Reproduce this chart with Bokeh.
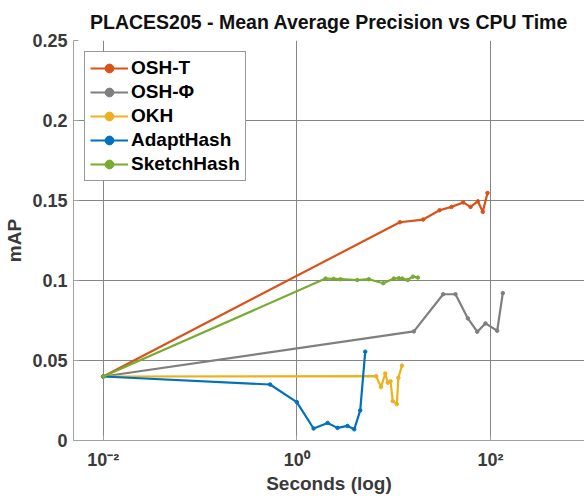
from bokeh.plotting import figure
from bokeh.models import FixedTicker, Legend, LegendItem, Range1d
from bokeh.embed import file_html
from bokeh.resources import INLINE

# ---- data ----
osh_t_x = [0.01, 11.6, 20.2, 29.8, 39.6, 52.3, 62.3, 74.1, 83.4, 93.3]
osh_t_y = [0.040, 0.1364, 0.1381, 0.1439, 0.1460, 0.1488, 0.1460, 0.1495, 0.1429, 0.1547]

osh_phi_x = [0.01, 16.2, 32.5, 43.6, 58.5, 73.1, 89.0, 117.5, 134.3]
osh_phi_y = [0.040, 0.0682, 0.0914, 0.0914, 0.0763, 0.0680, 0.0732, 0.0686, 0.0921]

okh_x = [0.01, 6.6, 7.4, 8.2, 8.7, 9.3, 9.8, 10.8, 11.2, 12.2]
okh_y = [0.040, 0.0402, 0.0334, 0.0419, 0.0361, 0.0370, 0.0246, 0.0227, 0.0392, 0.0468]

adapt_x = [0.01, 0.53, 1.0, 1.49, 2.08, 2.63, 3.34, 3.92, 4.52, 5.09]
adapt_y = [0.040, 0.0350, 0.0240, 0.0075, 0.0110, 0.0079, 0.0091, 0.0070, 0.0188, 0.0555]

sketch_x = [0.01, 1.98, 2.4, 2.83, 4.21, 5.55, 7.82, 10.05, 11.3, 12.3, 14.0, 15.8, 17.8]
sketch_y = [0.040, 0.1012, 0.1010, 0.1008, 0.1003, 0.1008, 0.0983, 0.1012, 0.1014, 0.1012, 0.1003, 0.1024, 0.1018]

series_names = ["OSH-T", "OSH-\u03a6", "OKH", "AdaptHash", "SketchHash"]
series_colors = ["#D95319", "#7F7F7F", "#EDB120", "#0072BD", "#77AC30"]

x_ticks = [0.01, 1, 100]
x_tick_labels = ["10\u207b\u00b2", "10\u2070", "10\u00b2"]
y_ticks = [0, 0.05, 0.1, 0.15, 0.2, 0.25]
y_tick_labels = ["0", "0.05", "0.1", "0.15", "0.2", "0.25"]

FONT = "Liberation Sans"
TXT = "#3a3a3a"

p = figure(width=584, height=496, x_axis_type="log",
           x_range=Range1d(10 ** -2.307, 10 ** 2.972), y_range=Range1d(0, 0.25),
           output_backend="svg", toolbar_location=None,
           min_border_left=73, min_border_right=0, min_border_top=40, min_border_bottom=54)

p.title.text = "PLACES205 - Mean Average Precision vs CPU Time"
p.title.align = "center"
p.title.text_font = FONT
p.title.text_font_size = "19.5px"
p.title.text_font_style = "bold"
p.title.text_color = "#111111"
p.title.standoff = 16

p.outline_line_color = None
p.background_fill_color = "white"
p.border_fill_color = "white"

for ax in (p.xaxis[0], p.yaxis[0]):
    ax.axis_line_color = "#a0a0a0"
    ax.major_tick_line_color = "#a0a0a0"
    ax.major_tick_in = 5
    ax.major_tick_out = 0
    ax.minor_tick_line_color = None
    ax.major_label_text_font = FONT
    ax.major_label_text_font_size = "18px"
    ax.major_label_text_font_style = "bold"
    ax.major_label_text_color = TXT
    ax.axis_label_text_font = FONT
    ax.axis_label_text_font_size = "19px"
    ax.axis_label_text_font_style = "bold"
    ax.axis_label_text_color = TXT

p.xaxis.ticker = FixedTicker(ticks=x_ticks, minor_ticks=[])
p.xaxis.major_label_overrides = dict(zip(x_ticks, x_tick_labels))
p.yaxis.ticker = FixedTicker(ticks=y_ticks, minor_ticks=[])
p.yaxis.major_label_overrides = dict(zip(y_ticks, y_tick_labels))
p.xaxis.axis_label = "Seconds (log)"
p.yaxis.axis_label = "mAP"
p.xaxis.major_label_standoff = 9
p.yaxis.major_label_standoff = 6
p.xaxis.axis_label_standoff = 0
p.yaxis.axis_label_standoff = 4

p.grid.grid_line_color = "#858585"
p.grid.grid_line_width = 1

xs = [osh_t_x, osh_phi_x, okh_x, adapt_x, sketch_x]
ys = [osh_t_y, osh_phi_y, okh_y, adapt_y, sketch_y]

items = []
for name, color, x, y in zip(series_names, series_colors, xs, ys):
    lr = p.line(x, y, line_color=color, line_width=2.2)
    sr = p.scatter(x, y, size=3.5, marker="circle", fill_color=color, line_color=color)
    items.append(LegendItem(label=name, renderers=[lr, sr]))

legend = Legend(items=items, location="top_left")
legend.margin = 11
legend.padding = 5
legend.spacing = 2
legend.glyph_width = 38
legend.glyph_height = 22
legend.label_height = 22
legend.label_standoff = 3
legend.label_text_font = FONT
legend.label_text_font_size = "19px"
legend.label_text_font_style = "bold"
legend.label_text_color = "#000000"
legend.border_line_color = "#333333"
legend.border_line_width = 1
legend.background_fill_color = "white"
legend.background_fill_alpha = 1
p.add_layout(legend, "center")

open("out.html", "w").write(file_html(p, INLINE))
